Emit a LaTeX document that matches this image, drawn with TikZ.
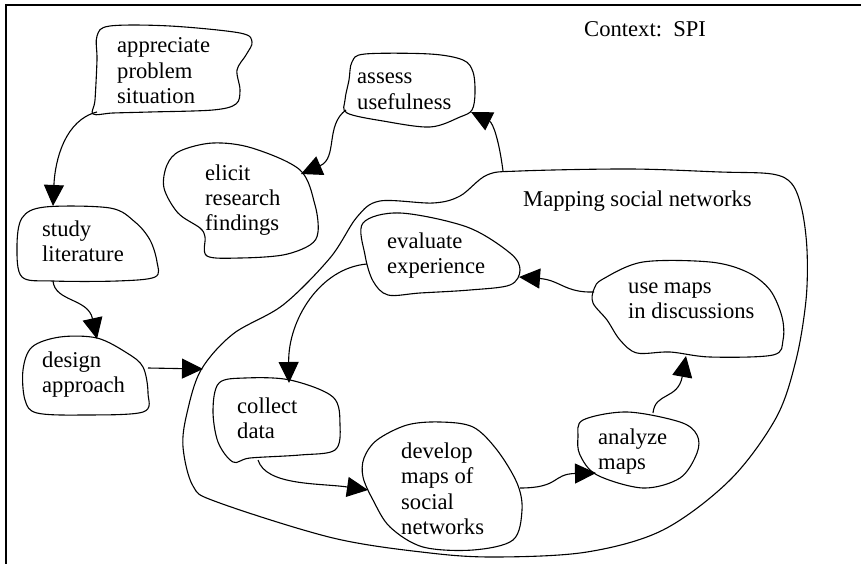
\documentclass[tikz,border=0pt]{standalone}
\usepackage{fontspec}
\setmainfont{Liberation Serif}
\usetikzlibrary{arrows.meta}
\tikzset{
  tip/.tip={Triangle[length=21pt, width=20pt]},
}
\begin{document}
\begin{tikzpicture}[x=1pt, y=-1pt,
  blob/.style={draw, line width=1.1pt, line join=round},
  flow/.style={draw, line width=1.1pt, -tip},
  lbl/.style={anchor=base west, inner sep=0pt, font=\fontsize{22.6}{25.5}\selectfont}]
\useasboundingbox (0,0) rectangle (861,564);

% frame
\draw[line width=1.1pt] (6,564) -- (6,5) -- (861,5);

% outer process: mapping social networks
\draw[blob] plot[smooth cycle, tension=0.55] coordinates {
  (487,175) (520,171) (630,169) (720,172) (772,174) (792,184) (802,210)
  (807,250) (806,300) (796,360) (776,418) (730,480) (663,530) (587,552)
  (497,557) (430,553) (333,538) (217,502) (193,486) (183,447) (187,413)
  (201,370) (233,334) (283,305) (330,258) (357,217) (380,201) (433,203)
  (460,196)};

% activity outlines
\draw[blob] plot[smooth cycle, tension=0.55] coordinates {
  (97,36) (110,26) (170,26) (240,33) (252,42) (246,55) (237,70) (240,90)
  (236,104) (213,110) (150,112) (113,113) (93,114) (95,100) (97,60)};
\draw[blob] plot[smooth cycle, tension=0.55] coordinates {
  (352,62) (365,54) (430,54) (463,60) (473,72) (475,93) (472,110)
  (460,117) (430,127) (383,121) (347,113) (345,100) (349,80)};
\draw[blob] plot[smooth cycle, tension=0.55] coordinates {
  (180,151) (213,143) (252,148) (300,170) (315,205) (318,232) (310,245)
  (283,255) (240,258) (207,256) (205,237) (200,228) (178,213) (164,188)
  (167,165)};
\draw[blob] plot[smooth cycle, tension=0.55] coordinates {
  (22,218) (45,207) (110,208) (135,222) (150,240) (157,262) (155,277)
  (117,281) (53,281) (22,277) (17,247)};
\draw[blob] plot[smooth cycle, tension=0.55] coordinates {
  (32,347) (60,337) (97,338) (127,353) (143,367) (148,393) (143,412)
  (83,415) (37,413) (25,400) (23,370)};
\draw[blob] plot[smooth cycle, tension=0.55] coordinates {
  (219,383) (245,378) (290,380) (333,397) (340,425) (335,450) (300,455)
  (250,458) (233,462) (218,442) (213,410)};
\draw[blob] plot[smooth cycle, tension=0.55] coordinates {
  (363,223) (400,213) (467,227) (510,253) (520,270) (510,285) (470,290)
  (420,293) (388,295) (373,281) (365,255)};
\draw[blob] plot[smooth cycle, tension=0.55] coordinates {
  (603,279) (643,262) (710,262) (747,272) (770,290) (782,317) (783,340)
  (773,355) (710,357) (670,352) (637,353) (620,340) (607,320) (593,303)
  (594,289)};
\draw[blob] plot[smooth cycle, tension=0.55] coordinates {
  (377,440) (407,425) (440,422) (473,427) (497,450) (517,483) (522,510)
  (513,540) (473,550) (423,547) (390,527) (373,500) (363,477) (364,458)};
\draw[blob] plot[smooth cycle, tension=0.55] coordinates {
  (583,420) (627,412) (680,422) (697,435) (697,453) (680,478) (643,488)
  (597,475) (580,455) (578,437)};

% labels
\node[lbl] (tA) at (117,53) {\begin{tabular}[t]{@{}l@{}}appreciate\\problem\\situation\end{tabular}};
\node[lbl] (tB) at (357,84) {\begin{tabular}[t]{@{}l@{}}assess\\usefulness\end{tabular}};
\node[lbl] (tC) at (205,180) {\begin{tabular}[t]{@{}l@{}}elicit\\research\\findings\end{tabular}};
\node[lbl] (tD) at (42,236) {\begin{tabular}[t]{@{}l@{}}study\\literature\end{tabular}};
\node[lbl] (tE) at (42,367) {\begin{tabular}[t]{@{}l@{}}design\\approach\end{tabular}};
\node[lbl] (tF) at (237,413) {\begin{tabular}[t]{@{}l@{}}collect\\data\end{tabular}};
\node[lbl] (tG) at (387,248) {\begin{tabular}[t]{@{}l@{}}evaluate\\experience\end{tabular}};
\node[lbl] (tH) at (628,293) {\begin{tabular}[t]{@{}l@{}}use maps\\in discussions\end{tabular}};
\node[lbl] (tI) at (401,458) {\begin{tabular}[t]{@{}l@{}}develop\\maps of\\social\\networks\end{tabular}};
\node[lbl] (tJ) at (598,444) {\begin{tabular}[t]{@{}l@{}}analyze\\maps\end{tabular}};
\node[lbl] (tM) at (523,206) {Mapping social networks};
\node[lbl] (tK) at (584,37) {Context:\ \ SPI};

% connector end points on the outlines
\coordinate (aOut) at (97,112);   \coordinate (dIn) at (53,206);
\coordinate (dOut) at (53,281);   \coordinate (eIn) at (97,339);
\coordinate (eOut) at (148,368);  \coordinate (mIn) at (203,369);
\coordinate (mOut) at (503,171);  \coordinate (bIn) at (471,112);
\coordinate (bOut) at (346,110);  \coordinate (cIn) at (301,174);
\coordinate (hOut) at (594,292);  \coordinate (gIn) at (519,277);
\coordinate (gOut) at (367,264);  \coordinate (fIn) at (289,383);
\coordinate (fOut) at (258,460);  \coordinate (iIn) at (368,490);
\coordinate (iOut) at (520,488);  \coordinate (jIn) at (596,473);
\coordinate (jOut) at (653,413);  \coordinate (hIn) at (686,356);

% connectors
\draw[flow] (aOut) .. controls (65,120) and (55,160) .. (dIn);
\draw[flow] (dOut) .. controls (55,302) and (88,298) .. (eIn);
\draw[flow] (eOut) -- (mIn);
\draw[flow] (mOut) .. controls (499,140) and (493,123) .. (bIn);
\draw[flow] (bOut) .. controls (325,125) and (338,158) .. (cIn);
\draw[flow] (hOut) .. controls (565,293) and (560,280) .. (gIn);
\draw[flow] (gOut) .. controls (320,268) and (288,320) .. (fIn);
\draw[flow] (fOut) .. controls (266,486) and (320,483) .. (iIn);
\draw[flow] (iOut) .. controls (560,488) and (552,474) .. (jIn);
\draw[flow] (jOut) .. controls (655,392) and (678,400) .. (hIn);
\end{tikzpicture}
\end{document}
